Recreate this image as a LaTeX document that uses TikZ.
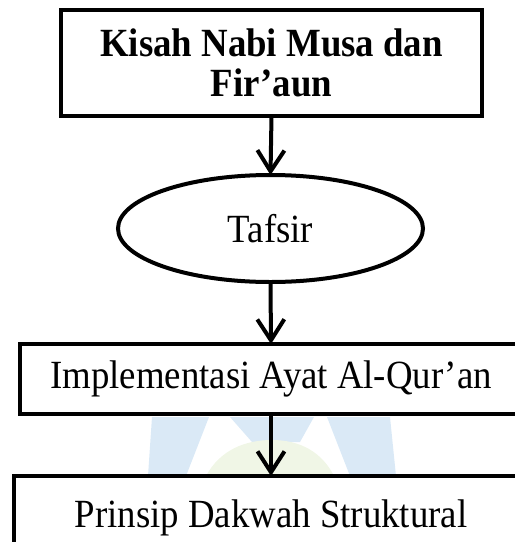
\documentclass[tikz,border=0pt]{standalone}
\usepackage{fontspec}
\setmainfont{Liberation Serif}[FakeStretch=0.92]
\usetikzlibrary{shapes.geometric,arrows.meta}
\definecolor{wmblue}{RGB}{218,233,246}
\definecolor{wmgreen}{RGB}{240,246,230}
\begin{document}
\begin{tikzpicture}[x=1pt,y=-1pt,
  every node/.style={inner sep=0pt, outer sep=0pt},
  boxnode/.style={draw=black, fill=white, line width=4pt, rectangle, align=center},
  ovalnode/.style={draw=black, fill=white, line width=4pt, ellipse},
  flow/.style={line width=4pt, -{Straight Barb[length=21pt,width=27pt,line width=4pt]}},
  bigtext/.style={font=\fontsize{40}{41}\selectfont},
  boldtext/.style={font=\fontsize{40}{40}\selectfont\bfseries}]
\useasboundingbox (0,0) rectangle (515,542);
\begin{scope}
\clip (0,0) rectangle (515,542);
% watermark
\fill[wmblue] (152,417) -- (209,417) -- (186,476) -- (148,476) -- cycle;
\fill[wmblue] (230,417) -- (314,417) -- (300,442) -- (252,442) -- cycle;
\fill[wmblue] (327,417) -- (390,417) -- (396,476) -- (350,476) -- cycle;
\fill[wmgreen] (206,476) .. controls (220,450) and (245,440) .. (272,440) .. controls (300,440) and (322,452) .. (334,476) -- cycle;
% nodes
\node[boxnode, boldtext, minimum width=421pt, minimum height=106pt] (kisah) at (271.5,63) {Kisah Nabi Musa dan\\Fir’aun};
\node[ovalnode, bigtext, minimum width=305pt, minimum height=107pt] (tafsir) at (270.5,228.5) {Tafsir};
\node[boxnode, bigtext, minimum width=502pt, minimum height=70pt] (impl) at (271,379) {Implementasi Ayat Al-Qur’an};
\node[boxnode, bigtext, minimum width=514pt, minimum height=84pt] (prinsip) at (271,518) {Prinsip Dakwah Struktural};
% connectors
\draw[flow] (kisah.south) -- (tafsir.north);
\draw[flow] (tafsir.south) -- (impl.north);
\draw[flow] (impl.south) -- (prinsip.north);
\end{scope}
\end{tikzpicture}
\end{document}
